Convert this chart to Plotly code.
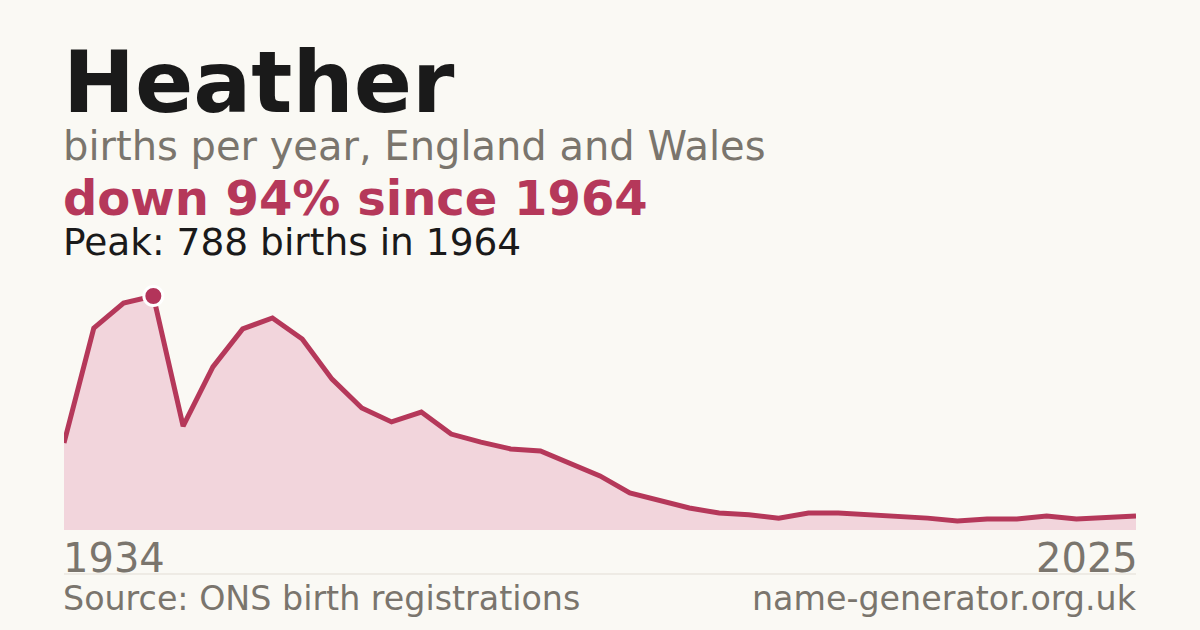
import plotly.graph_objects as go

# ONS births for the name, decade points then yearly
years = ['1934', '1944', '1954', '1964', '1974', '1984', '1994'] + [str(y) for y in range(1996, 2026)]
births = [293, 680, 764, 788, 350, 549, 677, 714, 643, 508,
          411, 364, 397, 323, 296, 273, 266, 226, 182, 125,
          98, 74, 57, 51, 40, 57, 57, 51, 47, 40,
          30, 37, 37, 47, 37, 44, 47]

peak_year = '1964'
peak_value = 788

BG = '#faf9f4'
CRIMSON = '#b5385a'
GREY = '#7a756d'
DARK = '#1a1a1a'
W, H = 1200, 630


def px_x(x):
    return x / W


def px_y(y):
    return (H - y) / H


fig = go.Figure()

fig.add_trace(go.Scatter(x=years, y=births, mode='lines', fill='tozeroy',
                         fillcolor='#f2d5dc', line=dict(color=CRIMSON, width=5),
                         hoverinfo='skip', showlegend=False))

fig.add_trace(go.Scatter(x=[peak_year], y=[peak_value], mode='markers',
                         marker=dict(color='#b3345a', size=19, line=dict(color='white', width=3)),
                         cliponaxis=False, hoverinfo='skip', showlegend=False))

font = 'DejaVu Sans'


def label(text, x, y, size, color, bold=False, anchor='left'):
    if bold:
        text = '<b>' + text + '</b>'
    fig.add_annotation(text=text, x=px_x(x), y=px_y(y), xref='paper', yref='paper',
                       xanchor=anchor, yanchor='middle', showarrow=False,
                       font=dict(family=font, size=size, color=color))


# texts (y is middle of the text box)
label('Heather', 61, 82, 86, DARK, bold=True)
label('births per year, England and Wales', 61, 146, 40, GREY)
label('down 94% since 1964', 61, 198, 48, CRIMSON, bold=True)
label('Peak: 788 births in 1964', 61, 242, 37.5, DARK)
label('1934', 61, 558, 40, GREY)
label('2025', 1140, 558, 40, GREY, anchor='right')
label('Source: ONS birth registrations', 61, 598, 33.3, GREY)
label('name-generator.org.uk', 1139, 598, 33.3, GREY, anchor='right')

fig.add_shape(type='line', xref='paper', yref='paper', x0=px_x(64), x1=px_x(1136),
              y0=px_y(574), y1=px_y(574), line=dict(color='#e2ddd5', width=1))

fig.update_layout(
    width=W, height=H,
    margin=dict(l=0, r=0, t=0, b=0),
    paper_bgcolor=BG, plot_bgcolor=BG,
    xaxis=dict(type='category', range=[0, len(years) - 1], domain=[px_x(64), px_x(1136)],
               showgrid=False, zeroline=False, showticklabels=False, ticks=''),
    yaxis=dict(range=[0, peak_value], domain=[px_y(530), px_y(296)],
               showgrid=False, zeroline=False, showticklabels=False, ticks=''),
)

# drop the default page margin so the figure sits at the window corner
fig.write_html('out.html', config={'displayModeBar': False},
               post_script="document.body.style.margin='0';")
